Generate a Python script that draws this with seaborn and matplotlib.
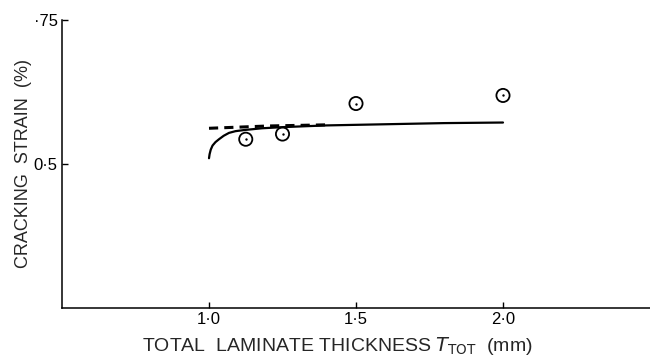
import matplotlib
matplotlib.use("Agg")
import matplotlib.pyplot as plt
import seaborn as sns
import pandas as pd

# Data
solid_x = [1.0, 1.002, 1.006, 1.012, 1.022, 1.034, 1.05, 1.068, 1.09, 1.12, 1.18, 1.25, 1.4, 1.6, 1.8, 2.0]
solid_y = [0.510, 0.517, 0.525, 0.532, 0.538, 0.543, 0.549, 0.554, 0.557, 0.559, 0.562, 0.564, 0.567, 0.569, 0.571, 0.572]
dashed_x = [1.0, 1.2, 1.4]
dashed_y = [0.562, 0.566, 0.568]
points_x = [1.125, 1.25, 1.5, 2.0]
points_y = [0.543, 0.552, 0.605, 0.619]
xticks = [1.0, 1.5, 2.0]
xtick_labels = ["1·0", "1·5", "2·0"]
yticks = [0.5, 0.75]
ytick_labels = ["0·5", "·75"]

sns.set_style("ticks")
plt.rcParams['font.family'] = ['Liberation Sans', 'DejaVu Sans']

fig = plt.figure(figsize=(6.5, 3.58), dpi=100)
ax = fig.add_axes([62/650, 1 - 308/358, 1 - 62/650, (308 - 20)/358])

sol = pd.DataFrame({"x": solid_x, "y": solid_y})
das = pd.DataFrame({"x": dashed_x, "y": dashed_y})
pts = pd.DataFrame({"x": points_x, "y": points_y})

sns.lineplot(data=sol, x="x", y="y", ax=ax, color="black", linewidth=1.6, sort=False)
sns.lineplot(data=das, x="x", y="y", ax=ax, color="black", linewidth=2.2,
             linestyle=(0, (3.0, 2.0)), sort=False)
sns.scatterplot(data=pts, x="x", y="y", ax=ax, marker="o", s=90,
                facecolor="none", edgecolor="black", linewidth=1.3)
sns.scatterplot(data=pts, x="x", y="y", ax=ax, marker="o", s=3,
                color="black", linewidth=0)

ax.set_xlim(0.5, 2.5)
ax.set_ylim(0.25, 0.75)
ax.set_xticks(xticks)
ax.set_xticklabels(xtick_labels, fontsize=12)
ax.set_yticks(yticks)
ax.set_yticklabels(ytick_labels, fontsize=12)
ax.tick_params(direction="in", length=4, width=1, pad=3, colors="black")
ax.spines["top"].set_visible(False)
ax.spines["right"].set_visible(False)
for s in ["left", "bottom"]:
    ax.spines[s].set_color("black")
    ax.spines[s].set_linewidth(1.1)

ax.set_xlabel(r"TOTAL  LAMINATE THICKNESS $T_{\rm TOT}$  (mm)", fontsize=14, labelpad=3)
ax.xaxis.set_label_coords(0.468, -0.095)
ax.set_ylabel("CRACKING  STRAIN  (%)", fontsize=13, labelpad=1)

fig.savefig("out.png", dpi=100)
